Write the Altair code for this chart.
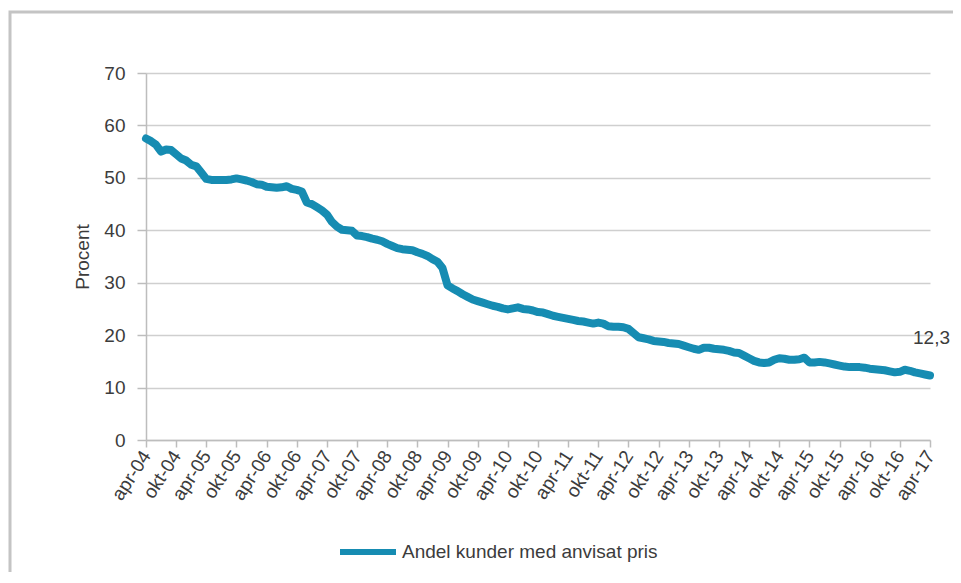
import altair as alt
import pandas as pd

# Monthly share (%) from apr-04 to apr-17
values = [
    57.5, 57.0, 56.3, 55.0, 55.4, 55.3, 54.5, 53.7, 53.3, 52.5, 52.2, 51.0,
    49.8, 49.6, 49.6, 49.6, 49.6, 49.7, 49.9, 49.7, 49.5, 49.2, 48.8, 48.7,
    48.3, 48.2, 48.1, 48.2, 48.4, 47.9, 47.7, 47.4, 45.3, 45.0, 44.4, 43.8,
    43.0, 41.6, 40.7, 40.1, 40.0, 39.9, 39.0, 38.9, 38.7, 38.4, 38.2, 37.9,
    37.4, 37.0, 36.6, 36.4, 36.3, 36.2, 35.8, 35.5, 35.1, 34.5, 34.0, 32.8,
    29.5, 28.9, 28.4, 27.8, 27.3, 26.8, 26.5, 26.2, 25.9, 25.6, 25.4, 25.1,
    24.9, 25.1, 25.3, 25.0, 24.9, 24.7, 24.4, 24.3, 24.0, 23.7, 23.5, 23.3,
    23.1, 22.9, 22.7, 22.6, 22.4, 22.2, 22.4, 22.2, 21.7, 21.6, 21.6, 21.5,
    21.2, 20.4, 19.6, 19.4, 19.2, 18.9, 18.8, 18.7, 18.5, 18.4, 18.3, 18.0,
    17.7, 17.4, 17.2, 17.6, 17.6, 17.4, 17.3, 17.2, 17.0, 16.7, 16.6, 16.1,
    15.6, 15.1, 14.8, 14.7, 14.8, 15.3, 15.6, 15.5, 15.3, 15.3, 15.4, 15.7,
    14.8, 14.8, 14.9, 14.8, 14.6, 14.4, 14.2, 14.0, 13.9, 13.9, 13.9, 13.8,
    13.6, 13.5, 13.4, 13.3, 13.1, 12.9, 13.0, 13.4, 13.2, 12.9, 12.7, 12.5,
    12.3,
]

tick_labels = [
    "apr-04", "okt-04", "apr-05", "okt-05", "apr-06", "okt-06", "apr-07",
    "okt-07", "apr-08", "okt-08", "apr-09", "okt-09", "apr-10", "okt-10",
    "apr-11", "okt-11", "apr-12", "okt-12", "apr-13", "okt-13", "apr-14",
    "okt-14", "apr-15", "okt-15", "apr-16", "okt-16", "apr-17",
]

series_name = "Andel kunder med anvisat pris"
line_color = "#168cb2"
font = "Liberation Sans"
text_color = "#3c3c3c"

df = pd.DataFrame({
    "month": list(range(len(values))),
    "value": values,
    "series": series_name,
})
last = df.tail(1).copy()
last["label"] = f"{values[-1]:.1f}".replace(".", ",")

label_array = "[" + ",".join(f"'{t}'" for t in tick_labels) + "]"

x_enc = alt.X(
    "month:Q",
    scale=alt.Scale(domain=[0, len(values) - 1], nice=False, zero=False),
    axis=alt.Axis(
        values=[i * 6 for i in range(len(tick_labels))],
        tickCount=40,
        labelExpr=f"{label_array}[round(datum.value / 6)]",
        labelAngle=-57,
        labelOverlap=False,
        labelBound=False,
        grid=False,
        title=None,
        tickSize=7,
        labelPadding=5,
    ),
)
y_enc = alt.Y(
    "value:Q",
    scale=alt.Scale(domain=[0, 70], nice=False),
    axis=alt.Axis(
        values=[0, 10, 20, 30, 40, 50, 60, 70],
        title="Procent",
        tickSize=9,
        labelPadding=12,
        titlePadding=11,
    ),
)

frame = alt.Chart(alt.Data(values=[{}])).mark_rect(
    fill=None, stroke="#c4c4c4", strokeWidth=3
).encode(
    x=alt.value(-136), x2=alt.value(840),
    y=alt.value(-61), y2=alt.value(540),
)

line = alt.Chart(df).mark_line(strokeWidth=8, strokeCap="round", strokeJoin="round").encode(
    x=x_enc,
    y=y_enc,
    color=alt.Color(
        "series:N",
        scale=alt.Scale(domain=[series_name], range=[line_color]),
        legend=alt.Legend(
            title=None,
            orient="none",
            legendX=191,
            legendY=448,
            symbolType="stroke",
            symbolSize=3136,
            symbolStrokeWidth=6,
            labelFontSize=19,
            labelFont=font,
            labelColor=text_color,
            labelOffset=3,
            labelLimit=0,
        ),
    ),
)

label = alt.Chart(last).mark_text(
    align="left", baseline="middle", dx=-17, dy=-38,
    fontSize=19, font=font, color=text_color,
).encode(x="month:Q", y="value:Q", text="label:N")

chart = alt.layer(frame, line, label).properties(
    width=784,
    height=367,
    autosize=alt.AutoSizeParams(type="none"),
    padding={"left": 138, "top": 65, "right": 23, "bottom": 132},
).configure_view(stroke=None).configure_axis(
    labelFont=font,
    titleFont=font,
    labelFontSize=19,
    titleFontSize=19,
    titleFontWeight="normal",
    labelColor=text_color,
    titleColor=text_color,
    domainColor="#bdbdbd",
    domainWidth=1.5,
    tickColor="#bdbdbd",
    tickWidth=1.5,
    gridColor="#cfcfcf",
    gridWidth=1.5,
)

chart.save("out.html", embed_options={"renderer": "svg", "actions": False})
